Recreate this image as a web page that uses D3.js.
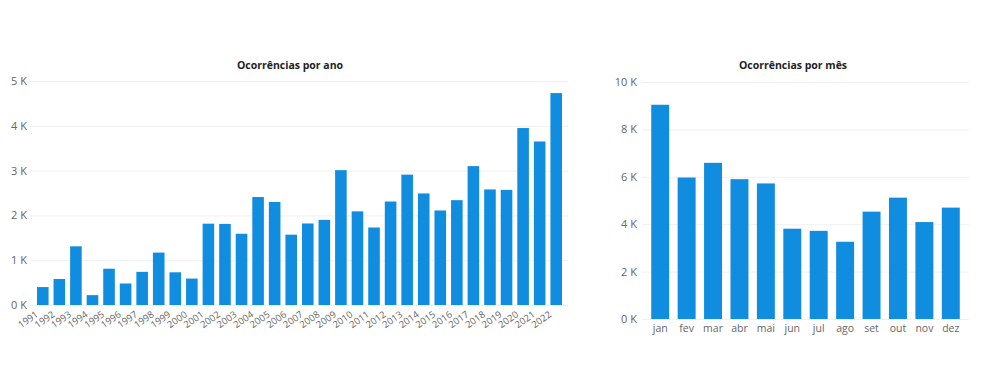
<!DOCTYPE html>
<html>
<head>
<meta charset="utf-8">
<script src="https://cdn.jsdelivr.net/npm/d3@7"></script>
<style>
  html, body { margin: 0; padding: 0; background: #ffffff; }
  svg { display: block; font-family: "Open Sans", "Noto Sans", sans-serif; }
</style>
</head>
<body>
<svg id="chart" width="985" height="367"></svg>
<script>
// Ocorrências por ano (1991–2022)
const years = ["1991","1992","1993","1994","1995","1996","1997","1998","1999","2000",
  "2001","2002","2003","2004","2005","2006","2007","2008","2009","2010",
  "2011","2012","2013","2014","2015","2016","2017","2018","2019","2020","2021","2022"];
const yearValues = [400, 580, 1310, 220, 810, 480, 740, 1170, 730, 590,
  1815, 1810, 1590, 2410, 2300, 1570, 1820, 1900, 3010, 2090,
  1730, 2310, 2910, 2490, 2110, 2340, 3100, 2580, 2570, 3950, 3650, 4730];
const yearTicks = [0, 1000, 2000, 3000, 4000, 5000];

// Ocorrências por mês
const months = ["jan","fev","mar","abr","mai","jun","jul","ago","set","out","nov","dez"];
const monthValues = [9040, 5970, 6590, 5900, 5720, 3810, 3720, 3260, 4530, 5120, 4090, 4700];
const monthTicks = [0, 2000, 4000, 6000, 8000, 10000];

const barColor = "#118ddf";
const gridColor = "#f0f0f0";
const labelColor = "#666666";
const fmtK = v => (v / 1000) + " K";

const svg = d3.select("#chart");

function drawPanel(cfg) {
  const g = svg.append("g");
  const x = d3.scaleBand().domain(cfg.cats).range(cfg.xRange)
    .paddingInner(cfg.padIn).paddingOuter(cfg.padOut);
  const y = d3.scaleLinear().domain([0, d3.max(cfg.ticks)]).range(cfg.yRange);

  // horizontal gridlines + value labels
  const yAxis = d3.axisLeft(y).tickValues(cfg.ticks).tickFormat(fmtK)
    .tickSize(-(cfg.gridEnd - cfg.gridStart)).tickPadding(cfg.tickPad);
  const ya = g.append("g").attr("transform", `translate(${cfg.gridStart},0)`).call(yAxis);
  ya.select(".domain").remove();
  ya.selectAll(".tick line").attr("stroke", gridColor).attr("stroke-width", 1);
  ya.selectAll(".tick text").attr("fill", labelColor)
    .style("font-size", "11px").style("font-family", "\"Open Sans\", sans-serif");

  // bars
  g.append("g").selectAll("rect").data(cfg.values).join("rect")
    .attr("x", (d, i) => x(cfg.cats[i]))
    .attr("y", d => y(d))
    .attr("width", x.bandwidth())
    .attr("height", d => y(0) - y(d))
    .attr("fill", barColor);

  // category axis
  const xAxis = d3.axisBottom(x).tickSize(0).tickPadding(0);
  const xa = g.append("g").attr("transform", `translate(0,${cfg.yRange[0]})`).call(xAxis);
  xa.select(".domain").remove();
  const xt = xa.selectAll(".tick text").attr("fill", labelColor)
    .style("font-family", "\"Open Sans\", sans-serif");
  if (cfg.rotate) {
    xt.style("font-size", "9.5px")
      .attr("text-anchor", "end")
      .attr("dy", "0")
      .attr("transform", `translate(-4,11) rotate(${cfg.rotate})`);
  } else {
    xt.style("font-size", "10.5px").attr("dy", "0").attr("y", cfg.xLabelDy);
  }

  // title
  svg.append("text")
    .attr("x", cfg.titleX).attr("y", cfg.titleY)
    .attr("text-anchor", "middle")
    .style("font-size", "10.5px").style("font-weight", "700")
    .attr("fill", "#222222")
    .text(cfg.title);
}

drawPanel({
  cats: years, values: yearValues, ticks: yearTicks,
  xRange: [34.5, 564.5], padIn: 0.3, padOut: 0.15,
  yRange: [305, 81], gridStart: 30, gridEnd: 568, tickPad: 3,
  rotate: -35,
  title: "Ocorrências por ano", titleX: 290, titleY: 69
});

drawPanel({
  cats: months, values: monthValues, ticks: monthTicks,
  xRange: [647, 964], padIn: 0.32, padOut: 0.16,
  yRange: [319, 82], gridStart: 642, gridEnd: 969, tickPad: 5,
  xLabelDy: 13,
  title: "Ocorrências por mês", titleX: 793, titleY: 69
});
</script>
</body>
</html>
